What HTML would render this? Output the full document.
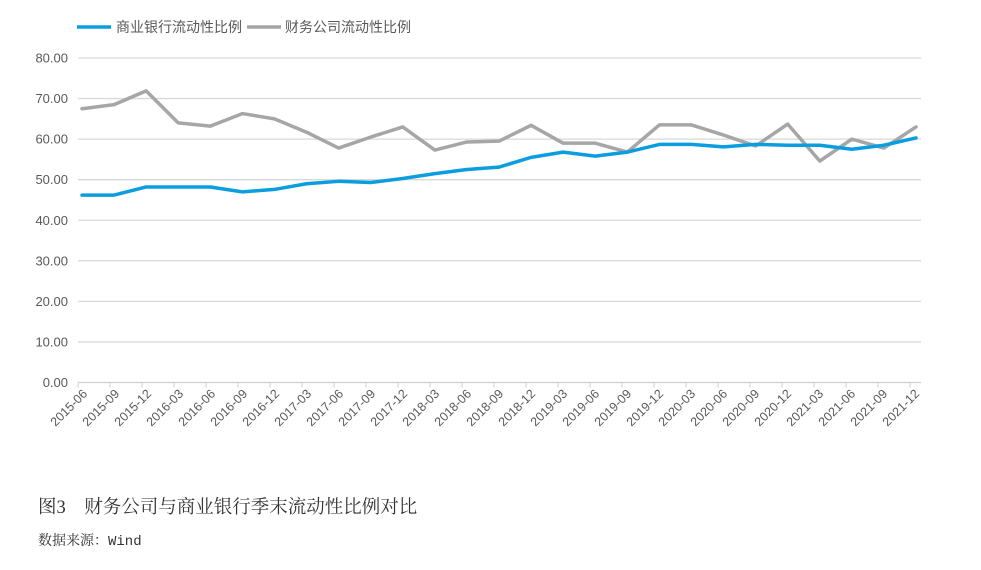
<!DOCTYPE html>
<html><head><meta charset="utf-8"><style>
body{margin:0;background:#fff;width:981px;height:570px;overflow:hidden}
svg{display:block}
</style></head><body>
<svg width="981" height="570" xmlns="http://www.w3.org/2000/svg" font-family="'Liberation Sans','Noto Sans CJK SC',sans-serif">
<g id="legend">
 <line x1="77" y1="27" x2="111" y2="27" stroke="#0a9ee0" stroke-width="3.5"/>
 <text x="116" y="32" font-size="14" fill="#595959">商业银行流动性比例</text>
 <line x1="247" y1="27" x2="281" y2="27" stroke="#a6a6a6" stroke-width="3.5"/>
 <text x="285" y="32" font-size="14" fill="#595959">财务公司流动性比例</text>
</g>
<g id="grid"></g><g id="yl"></g><g id="xl"></g><g id="series"></g>
<text x="38" y="513" font-size="18.5" fill="#333" font-family="'Liberation Serif','Noto Serif CJK SC',serif">图3　财务公司与商业银行季末流动性比例对比</text>
<text x="38" y="545" font-size="14" fill="#333" font-family="'Liberation Mono','Noto Serif CJK SC',monospace">数据来源：Wind</text>
</svg>
<script>
const categories=["2015-06","2015-09","2015-12","2016-03","2016-06","2016-09","2016-12","2017-03","2017-06","2017-09","2017-12","2018-03","2018-06","2018-09","2018-12","2019-03","2019-06","2019-09","2019-12","2020-03","2020-06","2020-09","2020-12","2021-03","2021-06","2021-09","2021-12"];
const bankValues=[46.2,46.2,48.2,48.2,48.2,47.0,47.6,49.0,49.6,49.3,50.3,51.5,52.5,53.1,55.5,56.8,55.8,56.8,58.7,58.7,58.1,58.7,58.5,58.5,57.5,58.5,60.3];
const fincoValues=[67.5,68.5,71.9,64.0,63.2,66.3,65.0,61.7,57.8,60.5,63.0,57.3,59.3,59.5,63.4,59.0,59.0,56.8,63.5,63.5,61.0,58.3,63.7,54.6,60.0,57.8,63.0];
const yTicks=[0,10,20,30,40,50,60,70,80];
const NS="http://www.w3.org/2000/svg";
const L=78,R=921,Y0=382.5,Y80=58;
const y=v=>Y0-(Y0-Y80)*v/80;
const x=i=>82+i*(916-82)/(categories.length-1);
const tickX=k=>78+k*32;
function mk(t,a,p){const e=document.createElementNS(NS,t);for(const k in a)e.setAttribute(k,a[k]);p.appendChild(e);return e;}
const grid=document.getElementById('grid'),yl=document.getElementById('yl'),xl=document.getElementById('xl'),ser=document.getElementById('series');
yTicks.forEach(v=>{
 const g=mk('line',{x1:L,x2:R,y1:y(v),y2:y(v),stroke:v===0?'#d0d0d0':'#d9d9d9','stroke-width':1.3},grid);
 
 
 const t=mk('text',{x:68,y:y(v)+4.5,'font-size':13,fill:'#595959','text-anchor':'end'},yl);
 t.textContent=v.toFixed(2);
 
 
});
categories.forEach((c,k)=>{
 const tx=tickX(k);
 const tk=mk('line',{x1:tx,x2:tx,y1:Y0,y2:Y0+5,stroke:'#d0d0d0','stroke-width':1},grid);
 
 
 const t=mk('text',{x:0,y:0,'font-size':12.5,fill:'#595959','text-anchor':'end',transform:`translate(${tx+10},${Y0+12}) rotate(-45)`},xl);
 t.textContent=c;
 
 
});
function line(vals,color,name){
 const p=mk('polyline',{points:vals.map((v,i)=>x(i)+','+y(v)).join(' '),fill:'none',stroke:color,'stroke-width':3.5,'stroke-linejoin':'round','stroke-linecap':'round'},ser);
 
 
}
line(fincoValues,'#a6a6a6','finco-liquidity-line');
line(bankValues,'#0a9ee0','bank-liquidity-line');
</script>
</body></html>
